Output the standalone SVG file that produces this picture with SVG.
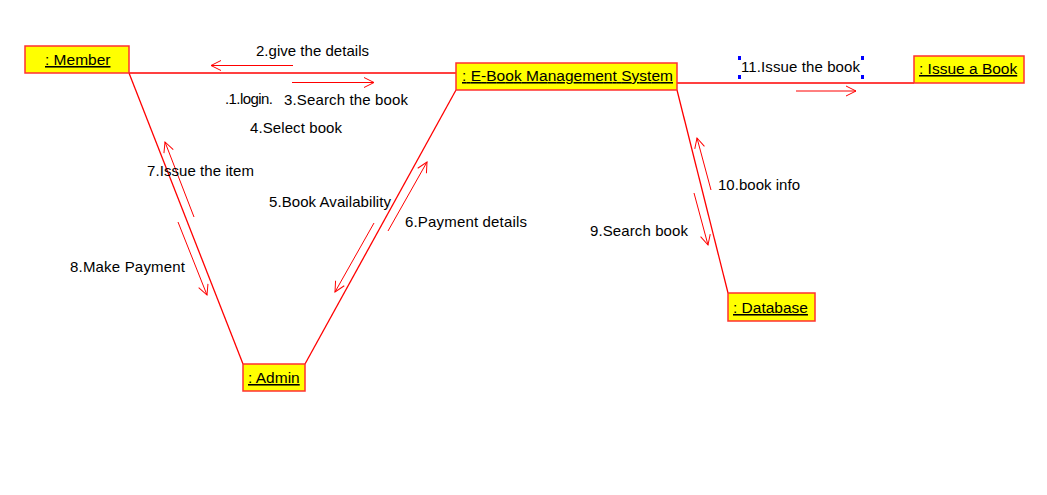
<svg xmlns="http://www.w3.org/2000/svg" width="1047" height="495" viewBox="0 0 1047 495">
<style>
.node{fill:#ffff00;stroke:#ff3030;stroke-width:1.5}
.nl{font-family:"Liberation Sans",Arial,sans-serif;font-size:15.5px;fill:#000;text-decoration:underline}
.ml{font-family:"Liberation Sans",Arial,sans-serif;font-size:15px;fill:#000}
.link{stroke:#ff0000;stroke-width:1.3;fill:none}
.msg{stroke:#ff0000;stroke-width:1;fill:none;marker-end:url(#oa)}
.h{fill:#0000ff}
</style>
<defs>
<marker id="oa" markerUnits="userSpaceOnUse" markerWidth="12" markerHeight="12" refX="10" refY="5" orient="auto" overflow="visible">
<path d="M0,0 L10,5 L0,10" fill="none" stroke="#ff0000" stroke-width="1"/>
</marker>
</defs>
<rect width="1047" height="495" fill="#fff"/>
<g id="connectors">
<line class="link" x1="129" y1="73" x2="456" y2="73"/>
<line class="link" x1="677" y1="83" x2="914" y2="83"/>
<line class="link" x1="129" y1="73" x2="243" y2="364"/>
<line class="link" x1="305" y1="364" x2="456" y2="90"/>
<line class="link" x1="677" y1="90" x2="728" y2="293"/>
<line class="msg" x1="293" y1="65.5" x2="211" y2="65.5"/>
<line class="msg" x1="292" y1="82.5" x2="374" y2="82.5"/>
<line class="msg" x1="796" y1="91" x2="856" y2="91"/>
<line class="msg" x1="194" y1="217" x2="165" y2="142"/>
<line class="msg" x1="178" y1="222" x2="207" y2="295"/>
<line class="msg" x1="374" y1="223" x2="335" y2="292"/>
<line class="msg" x1="388" y1="231" x2="427" y2="162"/>
<line class="msg" x1="711" y1="190" x2="697" y2="138"/>
<line class="msg" x1="694" y1="193" x2="708" y2="245"/>
</g>
<g id="messages">
<text class="ml" x="256" y="56" textLength="113">2.give the details</text>
<text class="ml" x="225" y="104" textLength="48">.1.login.</text>
<text class="ml" x="284" y="105" textLength="124">3.Search the book</text>
<text class="ml" x="250" y="133" textLength="92">4.Select book</text>
<text class="ml" x="147" y="176" textLength="107">7.Issue the item</text>
<text class="ml" x="269" y="207" textLength="122">5.Book Availability</text>
<text class="ml" x="405" y="227" textLength="122">6.Payment details</text>
<text class="ml" x="70" y="272" textLength="115">8.Make Payment</text>
<text class="ml" x="718" y="190" textLength="82">10.book info</text>
<text class="ml" x="590" y="236" textLength="98">9.Search book</text>
<text class="ml" x="741" y="72" textLength="119">11.Issue the book</text>
<rect class="h" x="738" y="56" width="3" height="4"/>
<rect class="h" x="861" y="56" width="3" height="4"/>
<rect class="h" x="738" y="75" width="3" height="4"/>
<rect class="h" x="861" y="75" width="3" height="4"/>
</g>
<g id="member">
<rect class="node" x="25" y="46" width="104" height="27"/>
<text class="nl" x="45" y="65">: Member</text>
</g>
<g id="ebook">
<rect class="node" x="456" y="63" width="221" height="27"/>
<text class="nl" x="462" y="81" textLength="211">: E-Book Management System</text>
</g>
<g id="issuebook">
<rect class="node" x="914" y="56" width="110" height="27"/>
<text class="nl" x="919" y="74">: Issue a Book</text>
</g>
<g id="database">
<rect class="node" x="728" y="293" width="87" height="28"/>
<text class="nl" x="733" y="313">: Database</text>
</g>
<g id="admin">
<rect class="node" x="243" y="364" width="62" height="27"/>
<text class="nl" x="248" y="383">: Admin</text>
</g>
</svg>
